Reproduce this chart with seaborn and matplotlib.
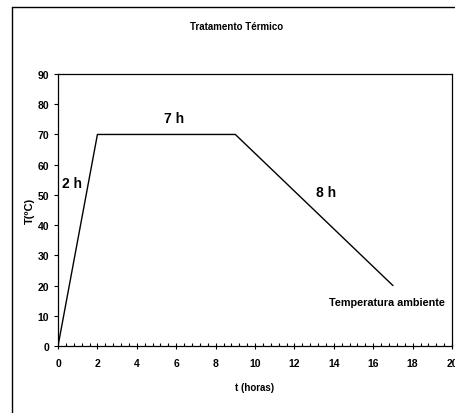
import matplotlib
matplotlib.use('Agg')
import matplotlib.pyplot as plt
import seaborn as sns
import pandas as pd
from matplotlib.ticker import MultipleLocator
from matplotlib.lines import Line2D

# perfil do tratamento térmico
tempo_h = [0, 2, 9, 17]
temp_c = [0, 70, 70, 20]

# rótulos dos trechos
rotulos = ['2 h', '7 h', '8 h', 'Temperatura ambiente']
rot_x = [0.2, 5.4, 13.1, 16.7]
rot_y = [54, 75.5, 51, 14.5]
rot_size = [10, 10, 10, 7.8]

sns.set_style('ticks')
plt.rcParams['font.family'] = ['Liberation Sans', 'DejaVu Sans']
plt.rcParams['font.weight'] = 'bold'
for k in ['text.color', 'axes.labelcolor', 'xtick.color', 'ytick.color']:
    plt.rcParams[k] = 'black'

df = pd.DataFrame({'t': tempo_h, 'T': temp_c})

fig = plt.figure(figsize=(4.55, 4.14), dpi=100)
ax = fig.add_axes([0.1275, 0.1618, 0.866, 0.657])

sns.lineplot(data=df, x='t', y='T', color='black', linewidth=1.0, ax=ax, sort=False)

ax.set_xlim(0, 20)
ax.set_ylim(0, 90)
ax.xaxis.set_major_locator(MultipleLocator(2))
ax.xaxis.set_minor_locator(MultipleLocator(0.4))
ax.yaxis.set_major_locator(MultipleLocator(10))
ax.tick_params(axis='x', which='major', direction='inout', length=5, width=0.8, labelsize=7.5, pad=6)
ax.tick_params(axis='x', which='minor', direction='in', length=2.5, width=0.8)
ax.tick_params(axis='y', which='major', direction='out', length=3, width=0.8, labelsize=7.5)
for lab in ax.get_xticklabels() + ax.get_yticklabels():
    lab.set_fontweight('bold')

for s in ax.spines.values():
    s.set_linewidth(0.9)
    s.set_color('black')

ax.set_xlabel('t (horas)', fontsize=7, fontweight='bold', labelpad=10)
ax.set_ylabel('T(ºC)', fontsize=8, fontweight='bold', labelpad=2)

for txt, x, y, fs in zip(rotulos, rot_x, rot_y, rot_size):
    ax.text(x, y, txt, fontsize=fs, fontweight='bold', ha='left' if fs > 8 else 'center', va='center')

fig.text(0.52, 0.935, 'Tratamento Térmico', ha='center', va='center', fontsize=7, fontweight='bold')

# moldura externa
fig.add_artist(Line2D([0.026, 0.026], [0.0, 0.981], transform=fig.transFigure, color='black', linewidth=1))
fig.add_artist(Line2D([0.026, 1.0], [0.981, 0.981], transform=fig.transFigure, color='black', linewidth=1))

fig.savefig('out.png', dpi=100)
